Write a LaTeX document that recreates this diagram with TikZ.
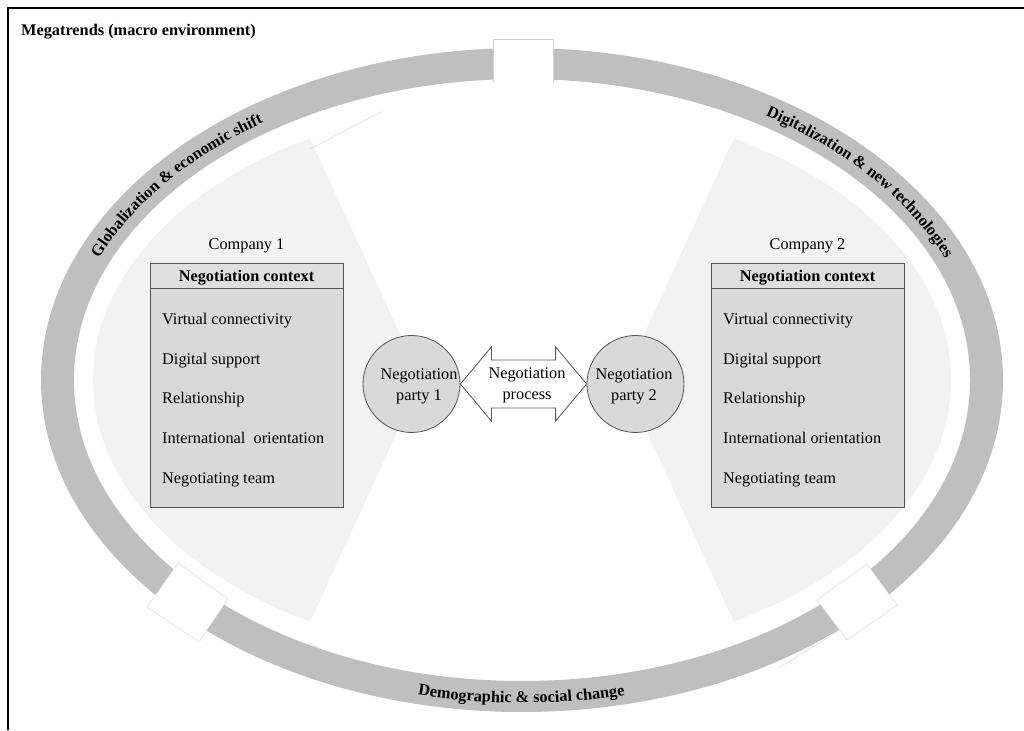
\documentclass[tikz,border=0pt]{standalone}
\usepackage{fontspec}
\setmainfont{Liberation Serif}
\usetikzlibrary{decorations.text}
\definecolor{ringgray}{HTML}{BFBFBF}
\definecolor{lightbg}{HTML}{F2F2F2}
\definecolor{boxfill}{HTML}{D9D9D9}
\definecolor{headfill}{HTML}{DFDFDF}
\definecolor{edgegray}{HTML}{555555}
\definecolor{gapline}{HTML}{D0D0D0}
\begin{document}
\begin{tikzpicture}[x=1pt,y=1pt,
  txt/.style={font=\fontsize{16.3}{21}\selectfont, inner sep=0pt},
  btxt/.style={font=\bfseries\fontsize{16.3}{21}\selectfont, inner sep=0pt},
  ctxbox/.style={draw=edgegray, line width=0.8pt, fill=boxfill, inner sep=0pt, rectangle},
  headbox/.style={ctxbox, fill=headfill},
  party/.style={circle, draw=edgegray, line width=0.8pt, fill=boxfill, inner sep=0pt, minimum size=97},
  arrowshape/.style={draw=edgegray, line width=0.8pt, fill=white, line join=miter},
  gapbox/.style={fill=white, draw=gapline, line width=0.4pt}
]
\useasboundingbox (0,0) rectangle (1024,730);
\coordinate (O) at (522,350);

% light company regions
\begin{scope}
  \clip (-10,-10) -- (256,-10) -- (421,350) -- (242,740) -- (-10,740) -- cycle;
  \fill[lightbg] (O) ellipse [x radius=429, y radius=278];
\end{scope}
\begin{scope}
  \clip (1034,-10) -- (788,-10) -- (623,350) -- (802,740) -- (1034,740) -- cycle;
  \fill[lightbg] (O) ellipse [x radius=429, y radius=278];
\end{scope}

% faint outlines of white gap shapes
\draw[gapline, line width=0.4pt] (310,581) -- (383,619);
\draw[gapline, line width=0.4pt] (310,87) -- (381,47);
\draw[gapline, line width=0.4pt] (840,100) -- (780,63);

% megatrend ring
\fill[ringgray, even odd rule] (O) ellipse [x radius=481, y radius=332]
                               (O) ellipse [x radius=448, y radius=301];

% gaps in the ring
\fill[white] (493,691) rectangle (553,640);
\draw[gapline, line width=0.4pt] (493,648) |- (553,691) -- (553,648);
\filldraw[gapbox] (178,167) -- (228,131) -- (199,88) -- (147,123) -- cycle;
\filldraw[gapbox] (867,166) -- (817,130) -- (847,90) -- (897,125) -- cycle;

% ring labels
\path[decorate, decoration={text along path, text align=left,
    text={|\bfseries\fontsize{16.3}{20}\selectfont|Globalization {\&} economic shift}}]
  ([shift={(157:459.5 and 311.5)}]O) arc[start angle=157, end angle=95, x radius=459.5, y radius=311.5];
\path[decorate, decoration={text along path, text align=left,
    text={|\bfseries\fontsize{16.3}{20}\selectfont|Digitalization {\&} new technologies}}]
  ([shift={(58:459.5 and 311.5)}]O) arc[start angle=58, end angle=-5, x radius=459.5, y radius=311.5];
\path[decorate, decoration={text along path, text align=left,
    text={|\bfseries\fontsize{16.3}{20}\selectfont|Demographic {\&} social change}}]
  ([shift={(257.2:470.5 and 323)}]O) arc[start angle=257.2, end angle=310, x radius=470.5, y radius=323];

% frame and title
\draw[line width=1.2pt] (8,0) -- (8,722) -- (1024,722);
\node[btxt, anchor=base west] (title) at (21,694) {Megatrends (macro environment)};

% company 1
\node[txt, anchor=base] (c1) at (246.5,480) {Company 1};
\node[ctxbox, minimum width=193, minimum height=244, anchor=north west] (box1) at (150,467) {};
\node[headbox, minimum width=193, minimum height=25, anchor=north] (head1) at (box1.north) {};
\node[btxt, anchor=base] (h1) at (246.5,448) {Negotiation context};
\node[txt, anchor=base west] (a1) at (162,405) {Virtual connectivity};
\node[txt, anchor=base west] (b1) at (162,365.5) {Digital support};
\node[txt, anchor=base west] (d1) at (162,326) {Relationship};
\node[txt, anchor=base west] (e1) at (162,286) {International\ \ orientation};
\node[txt, anchor=base west] (f1) at (162,246) {Negotiating team};

% company 2
\node[txt, anchor=base] (c2) at (807.5,480) {Company 2};
\node[ctxbox, minimum width=193, minimum height=244, anchor=north west] (box2) at (711,467) {};
\node[headbox, minimum width=193, minimum height=25, anchor=north] (head2) at (box2.north) {};
\node[btxt, anchor=base] (h2) at (807.5,448) {Negotiation context};
\node[txt, anchor=base west] (a2) at (723,405) {Virtual connectivity};
\node[txt, anchor=base west] (b2) at (723,365.5) {Digital support};
\node[txt, anchor=base west] (d2) at (723,326) {Relationship};
\node[txt, anchor=base west] (e2) at (723,286) {International orientation};
\node[txt, anchor=base west] (f2) at (723,246) {Negotiating team};

% negotiation parties
\node[party] (p1) at (411.5,346) {};
\node[party] (p2) at (635.5,346) {};
\node[txt, align=center] (t1) at (419,343.5) {Negotiation\\party 1};
\node[txt, align=center] (t2) at (634,343.5) {Negotiation\\party 2};

% negotiation process double arrow
\draw[arrowshape] (p1.east) -- ++(31,37) -- ++(0,-13) -- ([shift={(-31,24)}]p2.west)
  -- ++(0,13) -- (p2.west) -- ++(-31,-37) -- ++(0,13) -- ([shift={(31,-24)}]p1.east)
  -- ++(0,-13) -- cycle;
\node[txt, align=center] (proc) at (527,345) {Negotiation\\process};
\end{tikzpicture}
\end{document}
